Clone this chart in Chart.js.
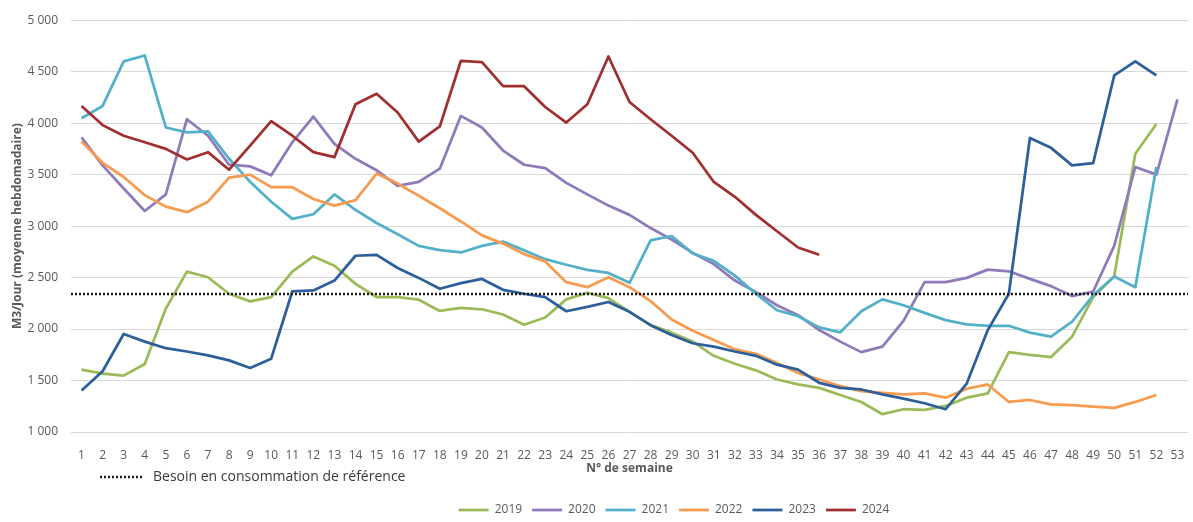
<!DOCTYPE html>
<html lang="fr">
<head>
<meta charset="utf-8">
<title>Consommation hebdomadaire</title>
<script src="https://cdn.jsdelivr.net/npm/chart.js@4.4.1/dist/chart.umd.min.js"></script>
<style>
  html, body { margin: 0; padding: 0; background: #fff; }
  #wrap { position: relative; width: 1193px; height: 522px; }
</style>
</head>
<body>
<div id="wrap"><canvas id="chart"></canvas></div>
<script>
const weeks = ['1', '2', '3', '4', '5', '6', '7', '8', '9', '10', '11', '12', '13', '14', '15', '16', '17', '18',
  '19', '20', '21', '22', '23', '24', '25', '26', '27', '28', '29', '30', '31', '32', '33', '34', '35', '36',
  '37', '38', '39', '40', '41', '42', '43', '44', '45', '46', '47', '48', '49', '50', '51', '52', '53'];

const y2019 = [1606, 1567, 1548, 1660, 2199, 2558, 2503, 2343, 2269, 2311, 2558, 2705, 2615, 2439, 2311, 2311,
  2285, 2176, 2205, 2192, 2141, 2042, 2112, 2288, 2353, 2301, 2167, 2038, 1965, 1878, 1740, 1663, 1599, 1510,
  1462, 1429, 1359, 1292, 1173, 1221, 1215, 1253, 1333, 1375, 1776, 1750, 1728, 1926, 2311, 2513, 3702, 3991];

const y2020 = [3862, 3590, 3365, 3147, 3308, 4038, 3878, 3596, 3580, 3494, 3814, 4064, 3798, 3654, 3542, 3390,
  3429, 3558, 4071, 3958, 3734, 3596, 3564, 3420, 3308, 3199, 3109, 2981, 2870, 2740, 2631, 2471, 2359, 2231,
  2135, 1990, 1878, 1776, 1830, 2080, 2455, 2455, 2497, 2577, 2561, 2487, 2417, 2320, 2365, 2808, 3574, 3500, 4232];

const y2021 = [4048, 4167, 4600, 4657, 3958, 3910, 3920, 3654, 3430, 3237, 3070, 3115, 3308, 3157, 3030, 2920,
  2808, 2766, 2744, 2808, 2849, 2766, 2679, 2625, 2574, 2545, 2449, 2862, 2904, 2734, 2663, 2519, 2343, 2183,
  2125, 2016, 1968, 2173, 2288, 2231, 2157, 2087, 2045, 2032, 2032, 1965, 1926, 2071, 2327, 2510, 2407, 3574];

const y2022 = [3821, 3615, 3477, 3301, 3189, 3135, 3237, 3471, 3500, 3378, 3378, 3263, 3199, 3253, 3510, 3413,
  3295, 3173, 3045, 2910, 2830, 2728, 2657, 2455, 2407, 2503, 2407, 2272, 2093, 1984, 1894, 1804, 1760, 1670,
  1574, 1510, 1446, 1397, 1381, 1365, 1375, 1333, 1420, 1462, 1292, 1311, 1269, 1260, 1247, 1234, 1292, 1359];

const y2023 = [1404, 1590, 1952, 1878, 1814, 1782, 1744, 1696, 1622, 1712, 2365, 2375, 2471, 2712, 2721, 2593,
  2497, 2391, 2446, 2487, 2381, 2343, 2311, 2173, 2215, 2263, 2167, 2038, 1942, 1862, 1830, 1782, 1740, 1654,
  1606, 1478, 1429, 1413, 1365, 1324, 1279, 1221, 1471, 1990, 2343, 3856, 3760, 3590, 3612, 4463, 4601, 4463];

const y2024 = [4167, 3981, 3878, 3814, 3750, 3647, 3718, 3548, 3782, 4019, 3878, 3718, 3670, 4183, 4285, 4103,
  3821, 3968, 4606, 4593, 4359, 4359, 4157, 4006, 4183, 4647, 4205, 4038, 3878, 3712, 3429, 3285, 3109, 2950,
  2792, 2721];

// besoin de référence, tracé d'un bord à l'autre de la zone
const REF_LEVEL = 2340;
const REF_FROM = 0.5;
const REF_TO = 53.5;

const seriesNames = ['2019', '2020', '2021', '2022', '2023', '2024'];
const seriesValues = [y2019, y2020, y2021, y2022, y2023, y2024];
const seriesColors = ['#9bbb59', '#8f7abb', '#52b1c9', '#f79b50', '#2d5f9b', '#a22f30'];

const grey = '#595959';
const font = 'Open Sans';

const datasets = seriesNames.map((name, i) => ({
  label: name,
  data: seriesValues[i],
  borderColor: seriesColors[i],
  backgroundColor: seriesColors[i],
  borderWidth: 2.75,
  borderJoinStyle: 'round',
  pointRadius: 0,
  tension: 0,
  fill: false,
  order: seriesNames.length - i
}));

datasets.push({
  label: 'Besoin en consommation de référence',
  data: [{ x: REF_FROM, y: REF_LEVEL }, { x: REF_TO, y: REF_LEVEL }],
  xAxisID: 'xRef',
  borderColor: '#1a1a1a',
  borderWidth: 2.5,
  borderDash: [2, 2],
  pointRadius: 0,
  fill: false,
  order: -1
});

const refLegend = {
  id: 'refLegend',
  afterDraw(chart) {
    const ds = chart.data.datasets[6];
    const c = chart.ctx;
    const x0 = chart.chartArea.left + 29;
    const y = chart.chartArea.bottom + 45;
    c.save();
    c.strokeStyle = ds.borderColor;
    c.lineWidth = ds.borderWidth;
    c.setLineDash(ds.borderDash);
    c.beginPath();
    c.moveTo(x0, y);
    c.lineTo(x0 + 42, y);
    c.stroke();
    c.setLineDash([]);
    c.fillStyle = '#3a3a3a';
    c.font = '14px "' + font + '"';
    c.textBaseline = 'middle';
    c.fillText(ds.label, x0 + 53, y);
    c.restore();
  }
};

// la légende des années est décalée vers la droite et vers le bas comme dans l'original
const legendShift = {
  id: 'legendShift',
  afterLayout(chart) {
    const lg = chart.legend;
    if (!lg) return;
    lg.left += 80;
    lg.right += 80;
    lg.top += 4;
    lg.bottom += 4;
  }
};

const fmt = (v) => String(v).replace(/\B(?=(\d{3})+(?!\d))/g, ' ');

new Chart(document.getElementById('chart').getContext('2d'), {
  type: 'line',
  data: { labels: weeks, datasets },
  options: {
    animation: false,
    responsive: true,
    maintainAspectRatio: false,
    layout: { padding: { top: 17, right: 5, bottom: 0, left: 0 } },
    plugins: {
      legend: {
        position: 'bottom',
        labels: {
          filter: (item) => item.datasetIndex < 6,
          sort: (a, b) => a.datasetIndex - b.datasetIndex,
          usePointStyle: true,
          pointStyle: 'line',
          pointStyleWidth: 30,
          padding: 10,
          color: grey,
          font: { family: font, size: 12 }
        }
      },
      tooltip: { enabled: false }
    },
    scales: {
      x: {
        type: 'category',
        offset: true,
        grid: { display: false },
        border: { display: false },
        ticks: {
          color: grey,
          font: { family: font, size: 12 },
          padding: 8,
          maxRotation: 0,
          autoSkip: false
        },
        title: {
          display: true,
          text: 'N° de semaine',
          color: grey,
          font: { family: font, size: 12, weight: 'bold' },
          padding: { top: 4, bottom: 14 }
        },
        afterFit(s) { s.height = 58; }
      },
      xRef: {
        type: 'linear',
        display: false,
        min: REF_FROM,
        max: REF_TO
      },
      y: {
        min: 1000,
        max: 5000,
        grid: { color: '#d9d9d9', lineWidth: 1, drawTicks: false },
        border: { display: false },
        ticks: {
          stepSize: 500,
          color: grey,
          font: { family: font, size: 12 },
          padding: 13,
          callback: (v) => fmt(v)
        },
        title: {
          display: true,
          text: 'M3/Jour (moyenne hebdomadaire)',
          color: grey,
          font: { family: font, size: 12, weight: 'bold' },
          padding: { top: 10, bottom: 0 }
        },
        afterFit(s) { s.width = 71; }
      }
    }
  },
  plugins: [refLegend, legendShift]
});
</script>
</body>
</html>
